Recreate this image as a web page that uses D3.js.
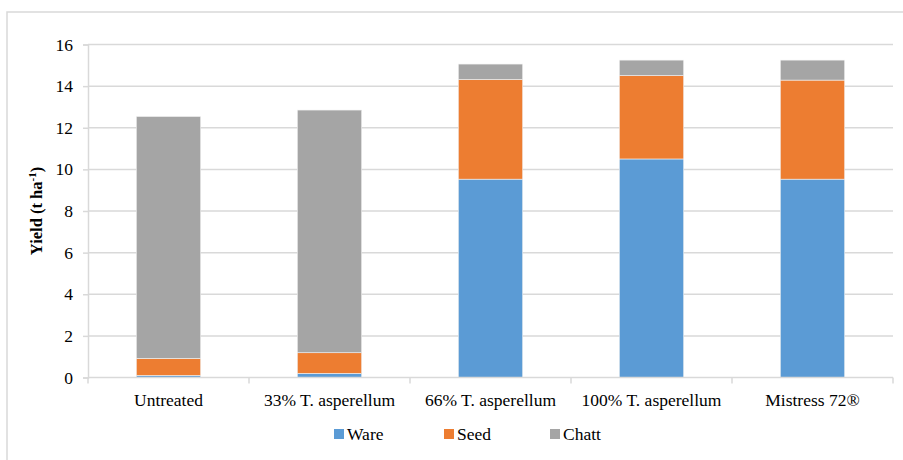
<!DOCTYPE html>
<html>
<head>
<meta charset="utf-8">
<script src="https://cdn.jsdelivr.net/npm/d3@7"></script>
<style>
body{margin:0;background:#fff;}
svg{display:block;}
</style>
</head>
<body>
<svg id="chart" width="903" height="460"></svg>
<script>
const categories = ["Untreated", "33% T. asperellum", "66% T. asperellum", "100% T. asperellum", "Mistress 72®"];
const ware  = [0.10, 0.20, 9.53, 10.50, 9.53];
const seed  = [0.82, 0.99, 4.79, 4.01, 4.76];
const chatt = [11.62, 11.66, 0.74, 0.74, 0.96];
const seriesNames = ["Ware", "Seed", "Chatt"];
const colors = ["#5B9BD5", "#ED7D31", "#A5A5A5"];
const yTicks = [0, 2, 4, 6, 8, 10, 12, 14, 16];

(function () {
const FONT = "'Liberation Serif', 'Times New Roman', Tinos, 'DejaVu Serif', serif";
const svg = d3.select("#chart").style("font-family", FONT);
const pL = 88, pR = 893, pT = 44.5, pB = 377.5;

// outer chart border
svg.append("rect").attr("x", 7).attr("y", 12).attr("width", 920).attr("height", 470)
  .attr("fill", "none").attr("stroke", "#d9d9d9").attr("stroke-width", 1.5);

const x = d3.scaleBand().domain(categories).range([pL, pR]).paddingInner(0.6).paddingOuter(0.3);
const xb = d3.scaleBand().domain(categories).range([pL, pR]);
const y = d3.scaleLinear().domain([0, 16]).range([pB, pT]);

// gridlines
svg.append("g").selectAll("line").data(yTicks.filter(d => d > 0)).join("line")
  .attr("x1", pL).attr("x2", pR)
  .attr("y1", d => y(d)).attr("y2", d => y(d))
  .attr("stroke", "#d9d9d9").attr("stroke-width", 1.5);

// y axis
const yAxis = svg.append("g").attr("transform", `translate(${pL},0)`)
  .call(d3.axisLeft(y).tickValues(yTicks).tickSize(5).tickPadding(10).tickFormat(d3.format("d")));
yAxis.attr("font-family", null).attr("font-size", null);
yAxis.select(".domain").attr("stroke", "#d9d9d9").attr("stroke-width", 1.5);
yAxis.selectAll(".tick line").attr("stroke", "#d9d9d9").attr("stroke-width", 1.5);
yAxis.selectAll("text").style("font-family", FONT).style("font-size", "17.5px").attr("fill", "#000");

// stacked bars
const rows = categories.map((c, i) => ({cat: c, Ware: ware[i], Seed: seed[i], Chatt: chatt[i]}));
const stack = d3.stack().keys(seriesNames)(rows);
svg.append("g").selectAll("g").data(stack).join("g")
  .attr("fill", (d, i) => colors[i])
  .selectAll("rect").data(d => d).join("rect")
  .attr("x", d => x(d.data.cat))
  .attr("width", x.bandwidth())
  .attr("y", d => y(d[1]))
  .attr("height", d => y(d[0]) - y(d[1]))
  .attr("stroke", "#f2f2f2").attr("stroke-width", 0.6);

// x axis
const xg = svg.append("g").attr("transform", `translate(0,${pB})`);
xg.append("line").attr("x1", pL).attr("x2", pR).attr("stroke", "#d9d9d9").attr("stroke-width", 1.5);
const bounds = categories.map(c => xb(c)).concat([pR]);
xg.selectAll("line.tk").data(bounds).join("line").attr("class", "tk")
  .attr("x1", d => d).attr("x2", d => d).attr("y1", 0).attr("y2", 6)
  .attr("stroke", "#d9d9d9").attr("stroke-width", 1.5);
xg.selectAll("text").data(categories).join("text")
  .attr("x", d => xb(d) + xb.bandwidth() / 2).attr("y", 28)
  .attr("text-anchor", "middle").style("font-family", FONT).style("font-size", "17.5px").text(d => d);

// y axis title
const yt = svg.append("text")
  .attr("transform", `translate(42,${(pT + pB) / 2}) rotate(-90)`)
  .attr("text-anchor", "middle").style("font-family", FONT).style("font-size", "16.5px").style("font-weight", "bold");
yt.append("tspan").text("Yield (t ha");
yt.append("tspan").attr("dy", -6).style("font-size", "11px").text("-1");
yt.append("tspan").attr("dy", 6).text(")");

// legend
const legendX = [334, 444, 550];
const lg = svg.append("g").selectAll("g").data(seriesNames).join("g")
  .attr("transform", (d, i) => `translate(${legendX[i]},429)`);
lg.append("rect").attr("width", 10).attr("height", 10).attr("fill", (d, i) => colors[i]);
lg.append("text").attr("x", 13).attr("y", 11).style("font-family", FONT).style("font-size", "17.5px").text(d => d);
})();
</script>
</body>
</html>
